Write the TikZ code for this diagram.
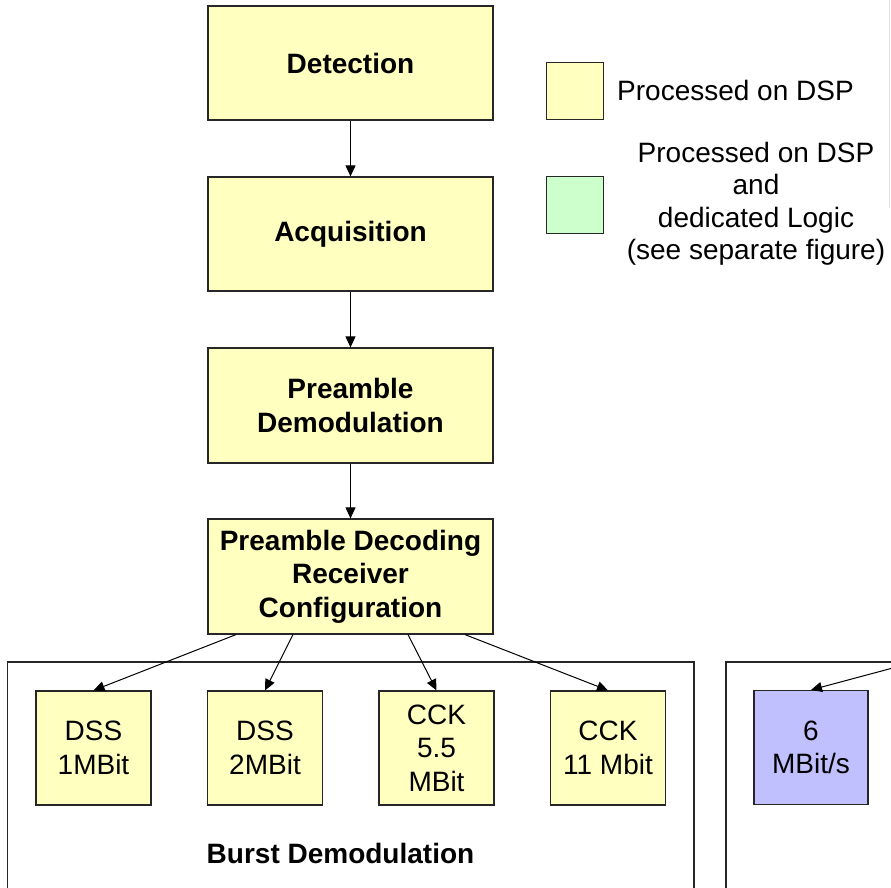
\documentclass[tikz,border=0pt]{standalone}
\usepackage{fontspec}
\setmainfont{Liberation Sans}
\usetikzlibrary{arrows.meta}
\definecolor{dspyellow}{HTML}{FFFFC0}
\definecolor{dspgreen}{HTML}{CCFFCC}
\definecolor{lav}{HTML}{C0C0FF}
\definecolor{faint}{HTML}{E4E4E4}
\tikzset{
  bigbox/.style={draw=black!85, line width=1.2pt, fill=dspyellow, minimum width=285pt, minimum height=114pt, align=center, inner sep=0pt, font=\fontsize{28}{33.5}\selectfont\bfseries},
  smallbox/.style={draw=black!85, line width=1.2pt, fill=dspyellow, minimum width=115pt, minimum height=114pt, align=center, inner sep=0pt, font=\fontsize{28}{33.5}\selectfont},
  legbox/.style={draw=black!85, line width=1.2pt, minimum width=57pt, minimum height=57pt, inner sep=0pt},
  txt/.style={align=center, inner sep=0pt, font=\fontsize{28}{32.5}\selectfont},
  frame/.style={draw=black!85, line width=1.2pt},
  flow/.style={draw=black, line width=1pt, -{Triangle[length=11pt,width=10pt]}}
}
\begin{document}
\begin{tikzpicture}[x=1pt,y=-1pt]
\useasboundingbox (0,0) rectangle (891,888);
\clip (0,0) rectangle (891,888);
% faint line at right top
\draw[faint, line width=1pt] (889,0) -- (889,208);
% containers
\draw[frame] (7.7,905) -- (7.7,662) -- (694,662) -- (694,905);
\draw[frame] (960,662) -- (726,662) -- (726,905);
\node[txt, font=\fontsize{28}{32.5}\selectfont\bfseries] (burst) at (340.5,853) {Burst Demodulation};
% main chain
\node[bigbox] (det) at (350.5,63) {Detection};
\node[bigbox] (acq) at (350.5,234) {Acquisition};
\node[bigbox, minimum height=115pt] (pdem) at (350.5,405.5) {Preamble\\Demodulation};
\node[bigbox, minimum height=115pt] (pdec) at (350.5,576.5) {Preamble Decoding\\Receiver\\Configuration};
% burst boxes
\node[smallbox] (dss1) at (93.5,748) {DSS\\1MBit};
\node[smallbox] (dss2) at (265,748) {DSS\\2MBit};
\node[smallbox] (cck55) at (436.5,748) {CCK\\5.5\\MBit};
\node[smallbox] (cck11) at (608,748) {CCK\\11 Mbit};
\node[smallbox, fill=lav, minimum width=114pt] (six) at (811,747.5) {6\\MBit/s};
% legend
\node[legbox, fill=dspyellow] (ly) at (575.3,91.3) {};
\node[txt, anchor=west] (lyt) at (617,90) {Processed on DSP};
\node[legbox, fill=dspgreen] (lg) at (575.3,205.3) {};
\node[txt] (lgt) at (756,204) {Processed on DSP\\and\\dedicated Logic\\(see separate figure)};
% connectors
\draw[flow] (det) -- (acq);
\draw[flow] (acq) -- (pdem);
\draw[flow] (pdem) -- (pdec);
\draw[flow] ([xshift=-114.5pt]pdec.south) -- (dss1.north);
\draw[flow] ([xshift=-57.5pt]pdec.south) -- (dss2.north);
\draw[flow] ([xshift=57.5pt]pdec.south) -- (cck55.north);
\draw[flow] ([xshift=114.5pt]pdec.south) -- (cck11.north);
\coordinate (offsrc) at (960,650);
\draw[flow] (offsrc) -- (six.north);
\end{tikzpicture}
\end{document}
